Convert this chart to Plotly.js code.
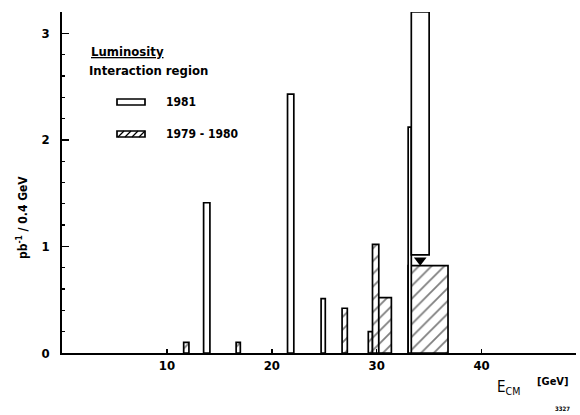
<!DOCTYPE html>
<html>
<head>
<meta charset="utf-8">
<script src="https://cdn.plot.ly/plotly-3.0.1.min.js"></script>
<style>
  html, body { margin: 0; padding: 0; background: #fff; }
  #chart { width: 580px; height: 415px; }
</style>
</head>
<body>
<div id="chart"></div>
<script>
// Integrated luminosity per 0.4 GeV bin versus centre-of-mass energy.
// Each block: lower energy edge, upper energy edge, luminosity (pb^-1 / 0.4 GeV).

// 1981 running (open blocks)
const run1981Low   = [13.5, 21.5, 24.7, 33.0, 33.3];
const run1981High  = [14.1, 22.1, 25.1, 33.3, 35.0];
const run1981Top   = [1.41, 2.43, 0.51, 2.12, 3.20];
const run1981Floor = [0,    0,    0,    0,    0.92];

// 1979 - 1980 running (hatched blocks)
const run7980Low  = [11.6, 16.6, 26.7, 29.2, 29.6, 30.2, 33.0];
const run7980High = [12.1, 17.0, 27.2, 29.6, 30.2, 31.4, 36.8];
const run7980Lumi = [0.10, 0.10, 0.42, 0.20, 1.02, 0.52, 0.82];

const yTicks = [0, 1, 2, 3];
const xTicks = [10, 20, 30, 40];

const FONT = "'Liberation Sans Narrow', 'DejaVu Sans Condensed', 'Arial Narrow', sans-serif";

const centers = (lo, hi) => lo.map((v, i) => (v + hi[i]) / 2);
const widths  = (lo, hi) => lo.map((v, i) => hi[i] - v);

const hatched = {
  type: 'bar',
  name: '1979 - 1980',
  x: centers(run7980Low, run7980High),
  y: run7980Lumi,
  width: widths(run7980Low, run7980High),
  marker: {
    color: 'white',
    line: { color: 'black', width: 1.7 },
    pattern: { shape: '/', fgcolor: 'black', bgcolor: 'white', size: 9, solidity: 0.2, fillmode: 'overlay' }
  },
  hoverinfo: 'skip',
  showlegend: false
};

const open1981 = {
  type: 'bar',
  name: '1981',
  x: centers(run1981Low, run1981High),
  y: run1981Top.map((t, i) => t - run1981Floor[i]),
  base: run1981Floor,
  width: widths(run1981Low, run1981High),
  marker: { color: 'white', line: { color: 'black', width: 1.7 } },
  hoverinfo: 'skip',
  showlegend: false
};

// Downward pointer between a raised 1981 block and the block beneath it
const ptrX = [], ptrY = [];
run1981Floor.forEach((f, i) => {
  if (f > 0) {
    const xc = (run1981Low[i] + run1981High[i]) / 2;
    const idx = run7980Low.findIndex((lo, j) => lo <= xc && run7980High[j] >= xc);
    const below = idx >= 0 ? run7980Lumi[idx] : 0;
    ptrX.push(xc);
    ptrY.push((f + below) / 2);
  }
});
const pointer = {
  type: 'scatter', mode: 'markers', x: ptrX, y: ptrY,
  marker: { symbol: 'triangle-down', size: 11, color: 'black', line: { width: 0 } },
  hoverinfo: 'skip', showlegend: false
};

// Legend drawn in paper coordinates
const px = p => (p - 62) / 514;
const py = p => (353 - p) / 341;

const legendShapes = [
  { type: 'rect', xref: 'paper', yref: 'paper', x0: px(117), x1: px(145), y0: py(105), y1: py(99),
    line: { color: 'black', width: 1.7 }, fillcolor: 'white' },
  { type: 'rect', xref: 'paper', yref: 'paper', x0: px(117), x1: px(145), y0: py(137), y1: py(131),
    line: { color: 'black', width: 1.7 }, fillcolor: 'white' }
];
[122, 129, 136, 143].forEach(h => {
  legendShapes.push({ type: 'line', xref: 'paper', yref: 'paper',
    x0: px(h - 4), y0: py(137), x1: px(h + 2), y1: py(131), line: { color: 'black', width: 1.3 } });
});

const textNotes = [
  { text: '<u>Luminosity</u>', x: px(89), y: py(51), xanchor: 'left', yanchor: 'middle',
    font: { size: 13, family: FONT, color: 'black', weight: 'bold' } },
  { text: 'Interaction region', x: px(87), y: py(71), xanchor: 'left', yanchor: 'middle',
    font: { size: 13, family: FONT, color: 'black', weight: 'bold' } },
  { text: '1981', x: px(164), y: py(102), xanchor: 'left', yanchor: 'middle',
    font: { size: 12, family: FONT, color: 'black', weight: 'bold' } },
  { text: '1979 - 1980', x: px(164), y: py(134), xanchor: 'left', yanchor: 'middle',
    font: { size: 12, family: FONT, color: 'black', weight: 'bold' } },
  { text: 'pb<sup>-1</sup> / 0.4 GeV', x: px(22), y: py(218), xanchor: 'center', yanchor: 'middle',
    textangle: -90, font: { size: 12, family: FONT, color: 'black', weight: 'bold' } },
  { text: 'E<sub>CM</sub>', x: px(495), y: py(388), xanchor: 'left', yanchor: 'middle',
    font: { size: 15, family: FONT, color: 'black' } },
  { text: '[GeV]', x: px(535), y: py(381), xanchor: 'left', yanchor: 'middle',
    font: { size: 11, family: FONT, color: 'black', weight: 'bold' } },
  { text: '3327', x: px(553), y: py(408), xanchor: 'left', yanchor: 'middle',
    font: { size: 6, family: FONT, color: 'black', weight: 'bold' } }
].map(a => Object.assign({ xref: 'paper', yref: 'paper', showarrow: false }, a));

const layout = {
  width: 580, height: 415,
  margin: { l: 62, r: 4, t: 12, b: 62 },
  paper_bgcolor: 'white', plot_bgcolor: 'white',
  barmode: 'overlay',
  bargap: 0,
  showlegend: false,
  font: { family: FONT, color: 'black' },
  xaxis: {
    range: [0, 49], showgrid: false, zeroline: false,
    showline: true, linecolor: 'black', linewidth: 1.8,
    tickvals: xTicks, ticktext: xTicks.map(String),
    ticks: 'inside', ticklen: 4, tickwidth: 1.5, tickcolor: 'black',
    tickfont: { size: 13, family: FONT, color: 'black', weight: 'bold' },
    fixedrange: true
  },
  yaxis: {
    range: [0, 3.2], showgrid: false, zeroline: false,
    showline: true, linecolor: 'black', linewidth: 1.8,
    tickvals: yTicks, ticktext: yTicks.map(String),
    ticks: 'inside', ticklen: 7, tickwidth: 1.5, tickcolor: 'black',
    minor: { dtick: 0.2, ticks: 'inside', ticklen: 3, tickwidth: 1.3, tickcolor: 'black' },
    ticklabelstandoff: 8,
    tickfont: { size: 13, family: FONT, color: 'black', weight: 'bold' },
    fixedrange: true
  },
  shapes: legendShapes,
  annotations: textNotes
};

Plotly.newPlot('chart', [hatched, open1981, pointer], layout, { staticPlot: true, displayModeBar: false });
</script>
</body>
</html>
